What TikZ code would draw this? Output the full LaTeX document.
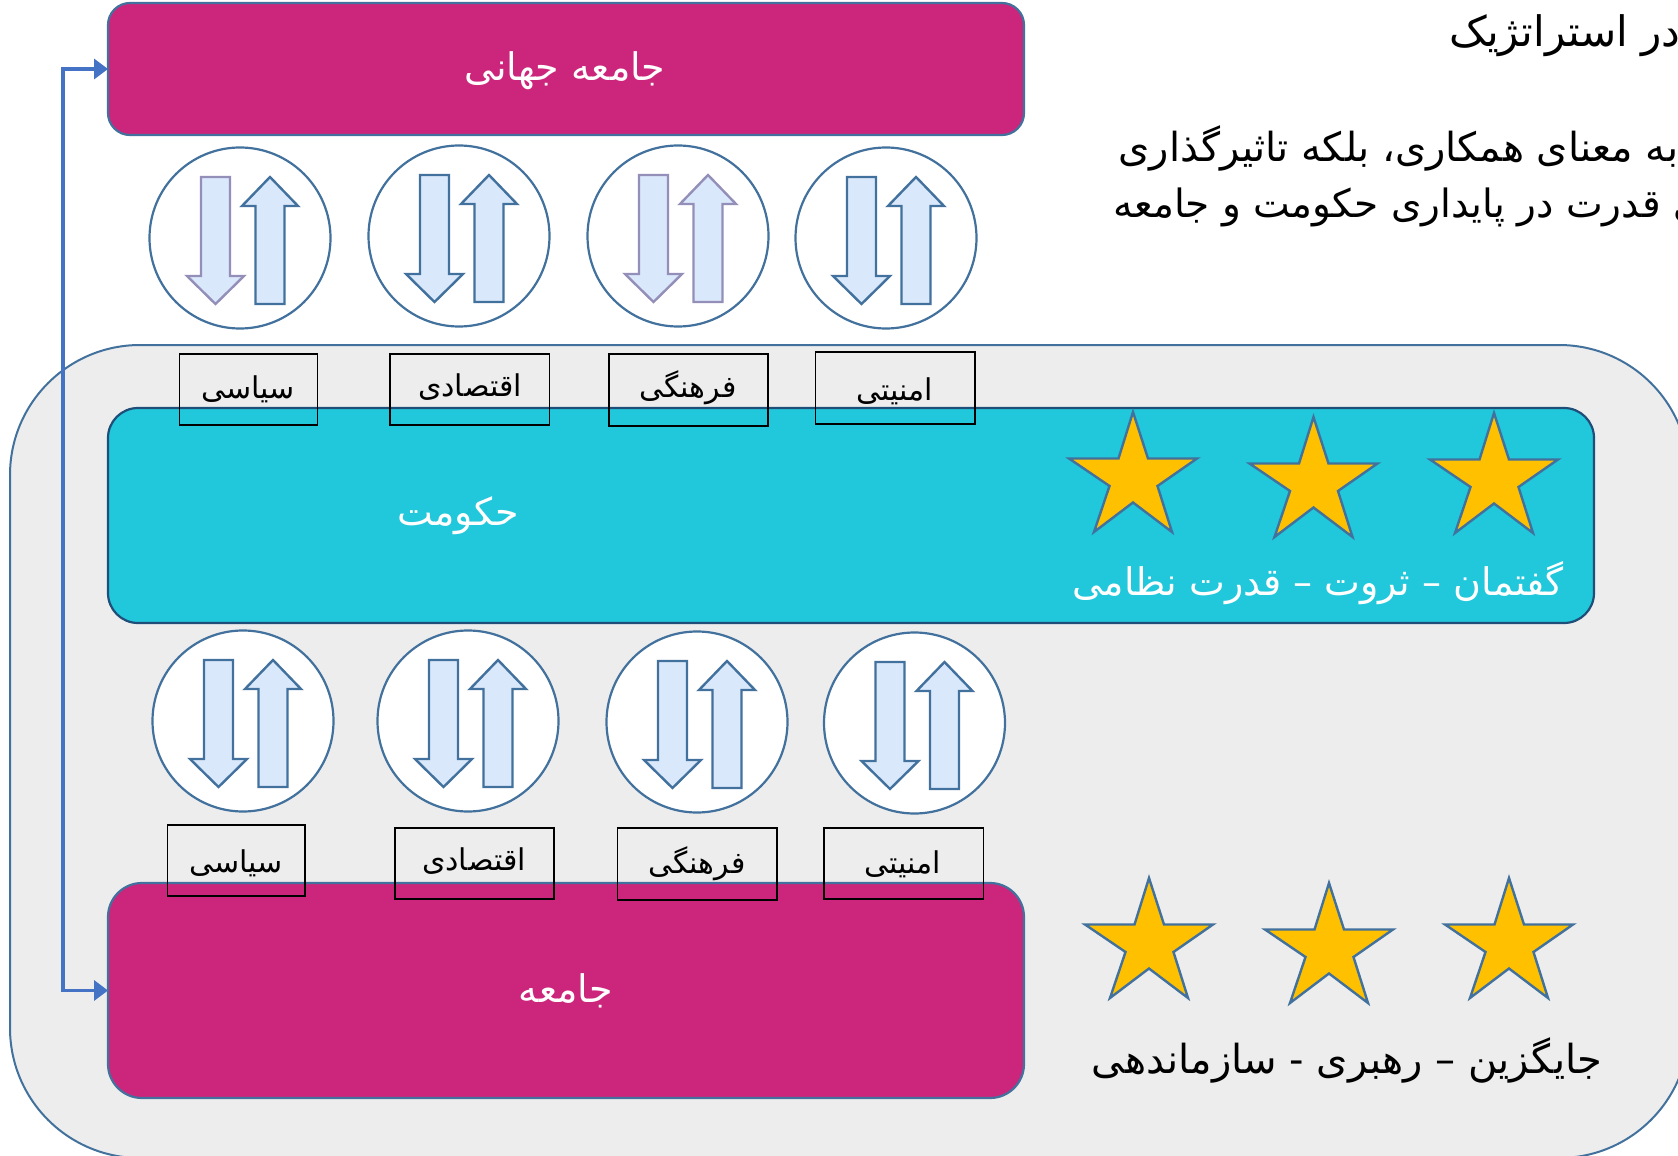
\documentclass[tikz,border=0pt]{standalone}
\usepackage{fontspec}
\usetikzlibrary{arrows.meta,fit}
\TeXXeTstate=1
\newfontfamily\persfont[Script=Arabic]{DejaVu Sans}
\definecolor{edgeblue}{HTML}{41719C}
\definecolor{darkedge}{HTML}{1F4E79}
\definecolor{pinkfill}{HTML}{CC267C}
\definecolor{cyanfill}{HTML}{21C7DB}
\definecolor{grayfill}{HTML}{EDEDED}
\definecolor{arrowfill}{HTML}{DAE8FC}
\definecolor{purpleedge}{HTML}{948FB8}
\definecolor{linkblue}{HTML}{4472C4}
\definecolor{starfill}{HTML}{FFC000}
\tikzset{
  x=0.5pt,y=-0.5pt,
  outerpanel/.style={draw=edgeblue,line width=1pt,fill=grayfill,rounded corners=65pt,inner sep=0pt,outer sep=0pt},
  pinkbox/.style={draw=edgeblue,line width=1.1pt,fill=pinkfill,inner sep=0pt,outer sep=0pt},
  cyanbox/.style={draw=darkedge,line width=1.1pt,fill=cyanfill,rounded corners=15pt,inner sep=0pt,outer sep=0pt},
  labelbox/.style={draw=black,line width=0.9pt,inner sep=0pt,outer sep=0pt},
  ringnode/.style={circle,draw=edgeblue,line width=1.1pt,fill=white,minimum size=90.5pt,inner sep=0pt},
  flowblue/.style={draw=edgeblue,line width=1.2pt,fill=arrowfill},
  flowpurple/.style={draw=purpleedge,line width=1.2pt,fill=arrowfill},
  starshape/.style={draw=edgeblue,line width=1.2pt,fill=starfill,line join=miter},
  lighttext/.style={text=white,font=\persfont\fontsize{19}{22}\selectfont,inner sep=0pt},
  darktext/.style={text=black,font=\persfont\fontsize{20}{24}\selectfont,inner sep=0pt},
  boxtext/.style={text=black,font=\persfont\fontsize{15}{18}\selectfont,inner sep=0pt},
  link/.style={draw=linkblue,line width=1.8pt,{Triangle[length=7pt,width=10pt]}-{Triangle[length=7pt,width=10pt]}},
}
% ring with a down and an up arrow: name, cx, cy, down style, up style
\newcommand{\ringpair}[5]{%
  \node[ringnode] (#1) at (#2,#3) {};
  \begin{scope}[shift={(#2,#3)}]
    \draw[#4] (-39,-61) -- (-10,-61) -- (-10,38) -- (4,38) -- (-24.5,66) -- (-53,38) -- (-39,38) -- cycle;
    \draw[#5] (15.5,66) -- (44.5,66) -- (44.5,-32) -- (58,-32) -- (30,-61) -- (2,-32) -- (15.5,-32) -- cycle;
  \end{scope}}
% star: left, top, right, bottom
\newcommand{\starat}[2]{%
  \begin{scope}[shift={(#1,#2)}]
    \draw[starshape] (64,0) -- (79,46.5) -- (128,46.5) -- (88.5,74) -- (103,120) -- (64,90.5) -- (25,120) -- (40.5,74) -- (0,46.5) -- (49.5,46.5) -- cycle;
  \end{scope}}
\begin{document}
\begin{tikzpicture}
\useasboundingbox (0,0) rectangle (1678,1156);
\clip (0,0) rectangle (1678,1156);
\node[outerpanel,fit={(10,345)(1689,1158)}] (panel) {};
\node[pinkbox,rounded corners=11pt,fit={(108,3)(1024,135)}] (globalbox) {};
\node[cyanbox,fit={(108,408)(1594,623)}] (govbox) {};
\node[pinkbox,rounded corners=17pt,fit={(108,883)(1024,1098)}] (societybox) {};
\draw[link] (globalbox.west) -- ++(-45,0) |- (societybox.west);
\ringpair{ringA}{240}{238}{flowpurple}{flowblue}
\ringpair{ringB}{459}{236}{flowblue}{flowblue}
\ringpair{ringC}{678}{236}{flowpurple}{flowpurple}
\ringpair{ringD}{886}{238}{flowblue}{flowblue}
\ringpair{ringE}{243}{721}{flowblue}{flowblue}
\ringpair{ringF}{468}{721}{flowblue}{flowblue}
\ringpair{ringG}{697}{722}{flowblue}{flowblue}
\ringpair{ringH}{914.5}{723}{flowblue}{flowblue}
\node[labelbox,fit={(179.5,354)(317.5,425)}] (boxA) {};
\node[labelbox,fit={(390,354)(549.5,425)}] (boxB) {};
\node[labelbox,fit={(609,354)(768,426)}] (boxC) {};
\node[labelbox,fit={(815.5,352)(975,424)}] (boxD) {};
\node[labelbox,fit={(167.5,825)(305,896)}] (boxE) {};
\node[labelbox,fit={(395,828)(554,899)}] (boxF) {};
\node[labelbox,fit={(617.5,828)(777,900)}] (boxG) {};
\node[labelbox,fit={(824,828)(983.5,899)}] (boxH) {};
\node[boxtext] (tA) at (248,389) {\beginR سیاسی\endR};
\node[boxtext] (tB) at (470,387) {\beginR اقتصادی\endR};
\node[boxtext] (tC) at (688,388) {\beginR فرهنگی\endR};
\node[boxtext] (tD) at (895,391) {\beginR امنیتی\endR};
\node[boxtext] (tE) at (236,863) {\beginR سیاسی\endR};
\node[boxtext] (tF) at (474,861) {\beginR اقتصادی\endR};
\node[boxtext] (tG) at (697,864) {\beginR فرهنگی\endR};
\node[boxtext] (tH) at (903,864) {\beginR امنیتی\endR};
\starat{1069}{412}
\starat{1249.5}{417}
\starat{1430}{413}
\starat{1085}{878}
\starat{1265}{883}
\starat{1445}{878}
\node[lighttext] (tGlobal) at (565,71) {\beginR جامعه جهانی\endR};
\node[lighttext] (tGov) at (458,516) {\beginR حکومت\endR};
\node[lighttext] (tPower) at (1318,583) {\beginR گفتمان – ثروت – قدرت نظامی\endR};
\node[lighttext] (tSociety) at (566,991) {\beginR جامعه\endR};
\node[darktext] (tRoles) at (1347,1060) {\beginR جایگزین – رهبری - سازماندهی\endR};
\node[darktext,font=\persfont\fontsize{21}{24}\selectfont,anchor=west] (tLine1) at (1449,36) {\beginR در استراتژیک\endR};
\node[darktext,anchor=west] (tLine2) at (1118,148) {\beginR به معنای همکاری، بلکه تاثیرگذاری\endR};
\node[darktext,font=\persfont\fontsize{19.5}{24}\selectfont,anchor=west] (tLine3) at (1113,207) {\beginR ی قدرت در پایداری حکومت و جامعه\endR};
\end{tikzpicture}
\end{document}
